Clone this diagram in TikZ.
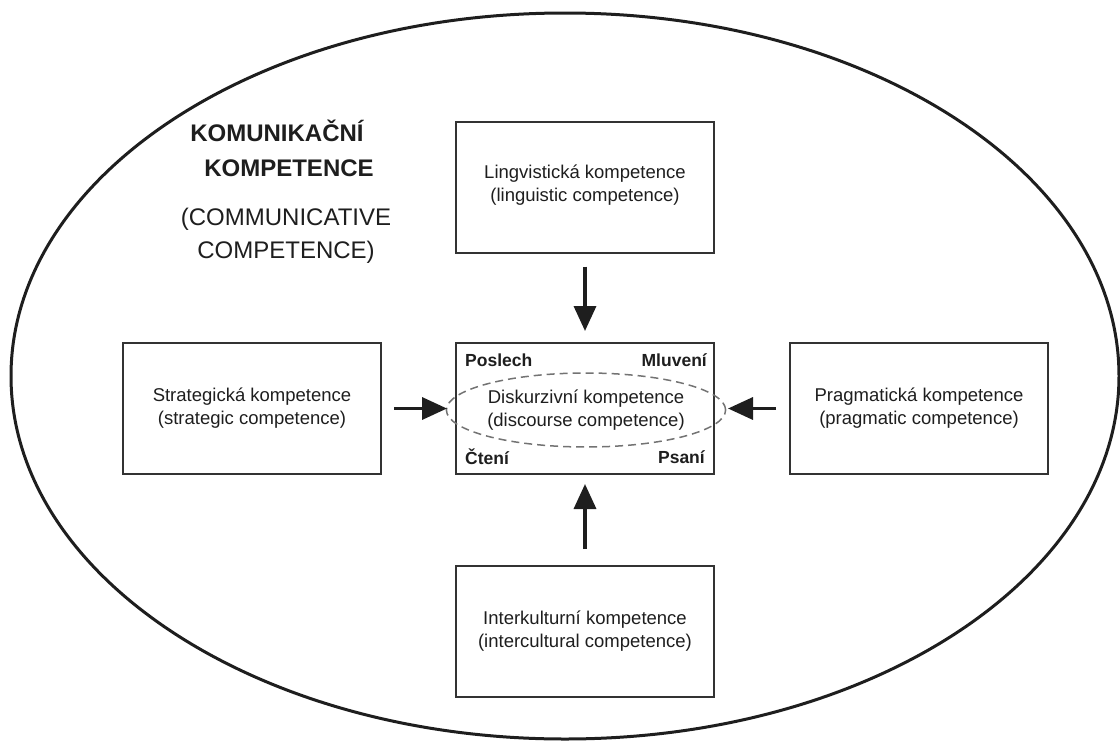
\documentclass[tikz,border=0pt]{standalone}
\usepackage{fontspec}
\setmainfont{Liberation Sans}
\usetikzlibrary{arrows.meta,shapes.geometric}
\definecolor{ink}{HTML}{1E1E1E}
\definecolor{boxline}{HTML}{333333}
\begin{document}
\begin{tikzpicture}[x=1pt,y=1pt,
  compbox/.style={draw=boxline,line width=2pt,rectangle,minimum width=258pt,minimum height=131pt,
    align=center,text=ink,font=\fontsize{18.5}{23}\selectfont,inner sep=0pt},
  corner/.style={font=\bfseries\fontsize{17.5}{20}\selectfont,text=ink,inner sep=0pt},
  flow/.style={draw=ink,line width=3.5pt,-{Triangle[length=25pt,width=22pt]}},
  title/.style={text=ink,inner sep=0pt,anchor=base}]
\useasboundingbox (0,0) rectangle (1120,-742);

% outer ellipse: communicative competence
\draw[ink,line width=3pt] (565,-376) ellipse [x radius=554, y radius=363];

% heading
\node[title,font=\bfseries\fontsize{24}{28}\selectfont] (t1) at (277,-141) {KOMUNIKAČNÍ};
\node[title,font=\bfseries\fontsize{24}{28}\selectfont] (t2) at (289,-176) {KOMPETENCE};
\node[title,font=\fontsize{24}{28}\selectfont] (t3) at (286,-225) {(COMMUNICATIVE};
\node[title,font=\fontsize{24}{28}\selectfont] (t4) at (286,-258) {COMPETENCE)};

% component boxes
\node[compbox,text depth=8pt] (ling)  at (585,-187) {Lingvistická kompetence\\(linguistic competence)};
\node[compbox] (strat) at (252,-408.5) {Strategická kompetence\\(strategic competence)};
\node[compbox] (disc)  at (585,-408.5) {};
\node[compbox] (prag)  at (919,-408.5) {Pragmatická kompetence\\(pragmatic competence)};
\node[compbox] (inter) at (585,-631.5) {Interkulturní kompetence\\(intercultural competence)};

% discourse competence in the centre
\node[ellipse,draw=black!55,dashed,dash pattern=on 8pt off 5pt,line width=1.5pt,
  minimum width=236pt,minimum height=74pt,inner sep=0pt,align=center,text=ink,
  font=\fontsize{18.5}{23}\selectfont] (dk) at (586,-410)
  {Diskurzivní kompetence\\(discourse competence)};
\node[corner,anchor=west] (pos) at (465,-360) {Poslech};
\node[corner,anchor=east] (mlu) at (707,-360) {Mluvení};
\node[corner,anchor=west] (cte) at (465,-457) {Čtení};
\node[corner,anchor=east] (psa) at (705,-457) {Psaní};

% arrows into the centre
\draw[flow,shorten <=13pt,shorten >=11pt] (ling.south) -- (disc.north);
\draw[flow,shorten <=16pt,shorten >=9pt] (inter.north) -- (disc.south);
\draw[flow,shorten <=12pt,shorten >=8pt] (strat.east) -- (disc.west);
\draw[flow,shorten <=13pt,shorten >=13pt] (prag.west) -- (disc.east);
\end{tikzpicture}
\end{document}
